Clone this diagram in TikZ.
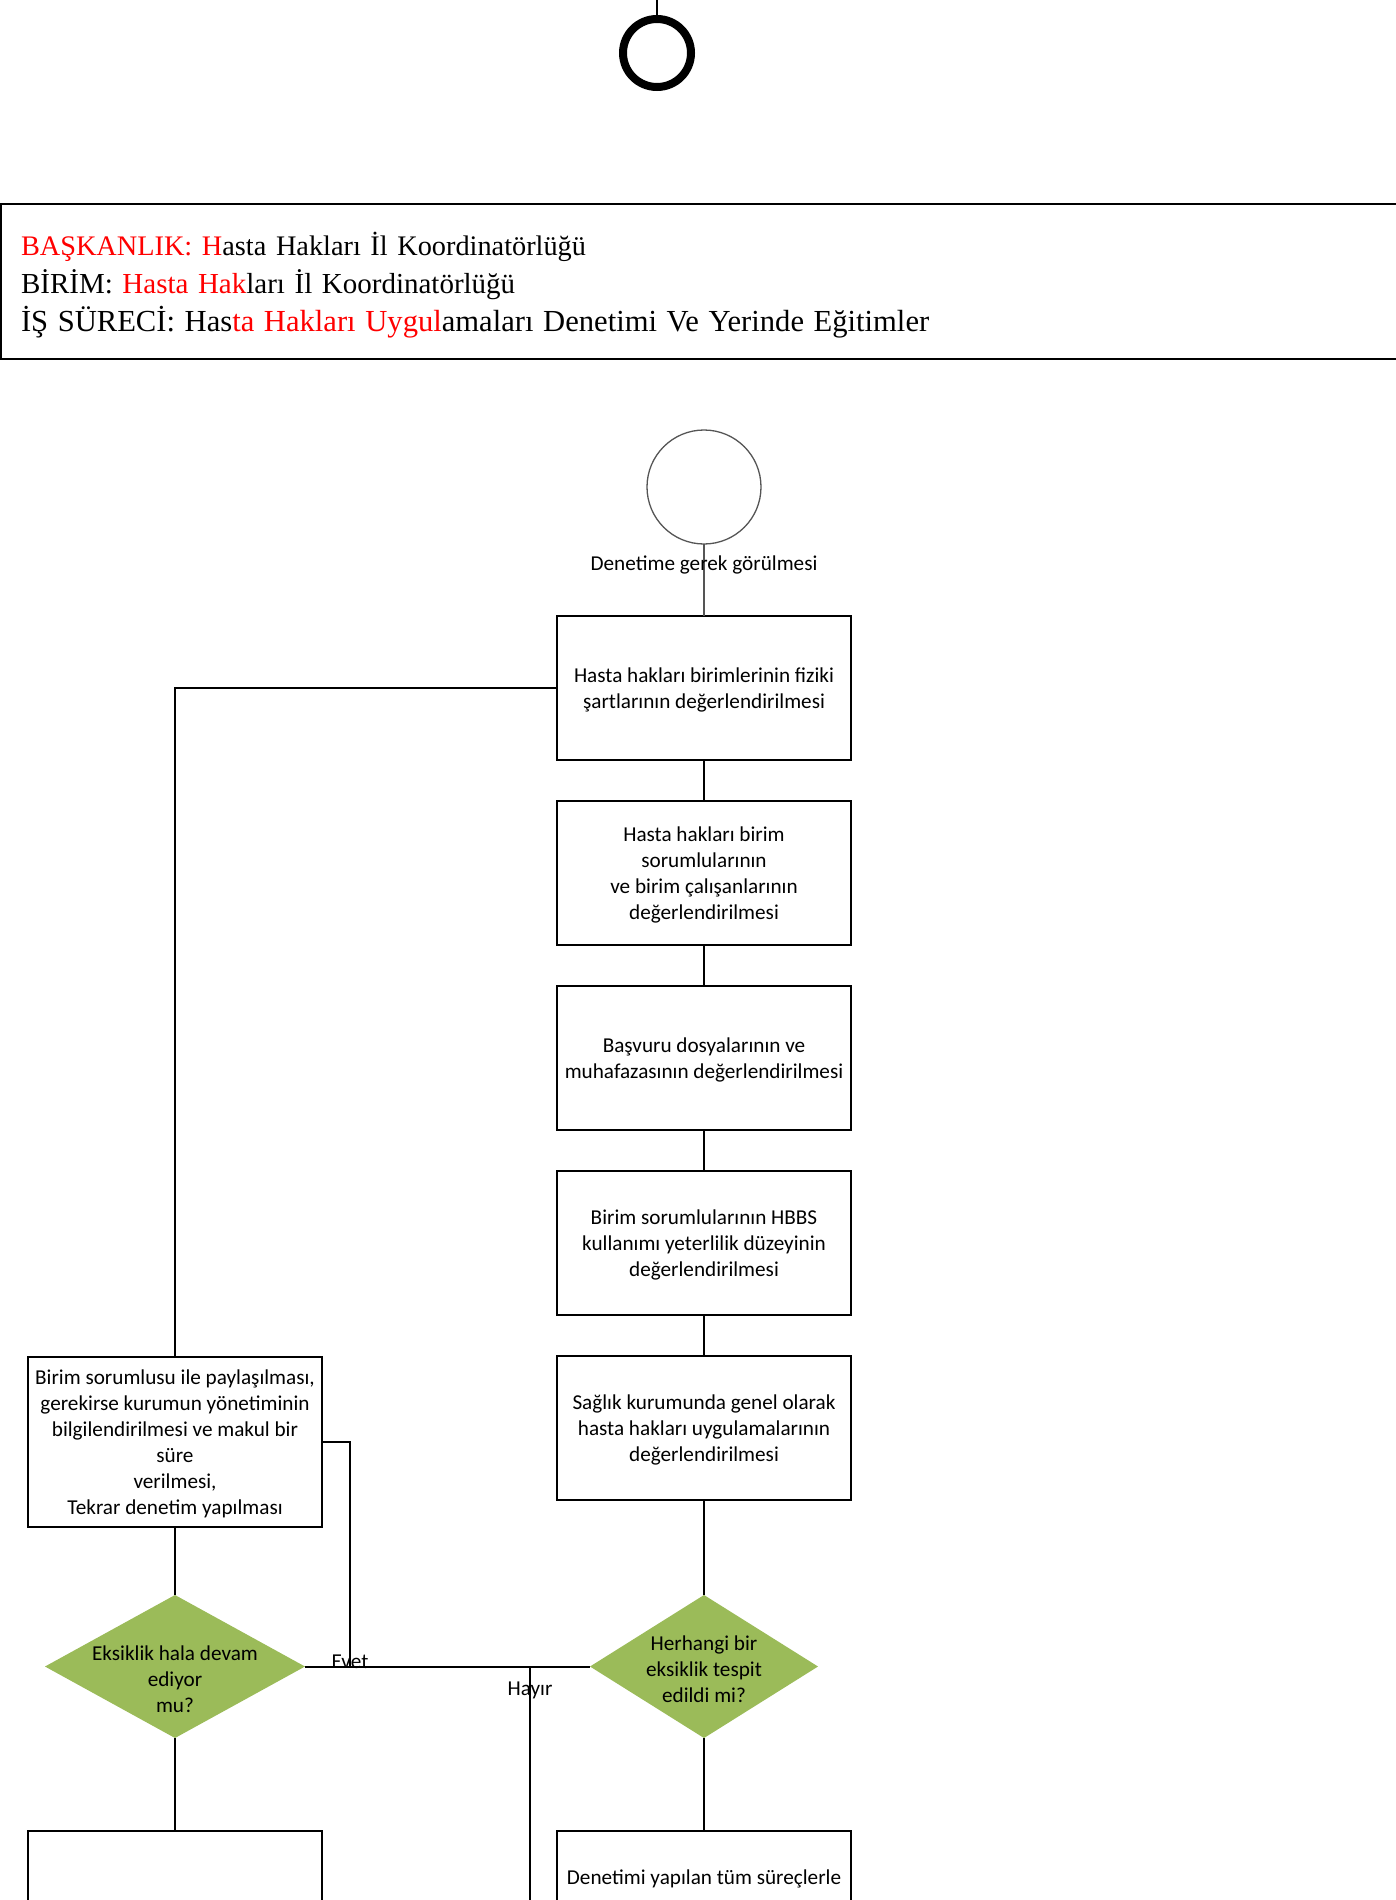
\documentclass[tikz,border=0pt]{standalone}
\usepackage{fontspec}
\usepackage{xcolor}
\usepackage{tikz}
\usetikzlibrary{positioning, shapes.geometric, calc}
\setmainfont{Liberation Serif}
\newfontfamily\calibri{Carlito}
\definecolor{headred}{RGB}{255, 0, 0}
\definecolor{decgreen}{RGB}{155, 187, 89}
\definecolor{circgray}{RGB}{85, 85, 85}

\begin{document}
\begin{tikzpicture}[
    x=1pt, y=-1pt,
    procbox/.style={rectangle, draw=black, line width=2pt, outer sep=0pt, minimum width=293.5pt, minimum height=144pt, inner sep=2pt, align=center, font=\calibri\fontsize{21.2}{26}\selectfont, text depth=-4pt},
    decision/.style={diamond, fill=decgreen, outer sep=0pt, inner sep=0pt, minimum width=#1, minimum height=143pt},
    dectext/.style={align=center, inner sep=0pt, font=\calibri\fontsize{21.2}{26}\selectfont},
    flowlabel/.style={inner sep=0pt, font=\calibri\fontsize{21.2}{26}\selectfont},
    flow/.style={line width=2pt, draw=black},
    header/.style={rectangle, draw=black, line width=2.5pt, outer sep=0pt, text width=1380pt, minimum height=155pt, inner xsep=20pt, inner ysep=0pt, align=left, font=\frenchspacing\fontsize{28.8}{38}\selectfont, text height=31pt}
]
\useasboundingbox (0,0) rectangle (1395,1900);

% End ring (top)
\coordinate (topin) at (657,0);
\node[circle, draw=black, line width=8pt, outer sep=0pt, minimum size=68pt, inner sep=0pt] (endring) at (657,53) {};
\draw[flow] (topin) -- (endring);

% Header
\node[header, anchor=north west] (head) at (1,204) {%
\fontsize{28.3}{38}\selectfont\textcolor{headred}{BAŞKANLIK: H}asta Hakları İl Koordinatörlüğü\\
\fontsize{29}{38}\selectfont BİRİM: \textcolor{headred}{Hasta Hak}ları İl Koordinatörlüğü\\
\fontsize{30.6}{38}\selectfont İŞ SÜRECİ: Has\textcolor{headred}{ta Hakları Uygul}amaları Denetimi Ve Yerinde Eğitimler};

% Main column
\node[procbox] (b1) at (704,688) {Hasta hakları birimlerinin fiziki\\şartlarının değerlendirilmesi};
\node[circle, draw=circgray, line width=1.3pt, outer sep=0pt, minimum size=114pt, inner sep=0pt, above=72pt of b1] (start) {};
\node[procbox, below=41pt of b1] (b2) {Hasta hakları birim\\sorumlularının\\ve birim çalışanlarının\\değerlendirilmesi};
\node[procbox, below=41pt of b2] (b3) {Başvuru dosyalarının ve\\muhafazasının değerlendirilmesi};
\node[procbox, below=41pt of b3] (b4) {Birim sorumlularının HBBS\\kullanımı yeterlilik düzeyinin\\değerlendirilmesi};
\node[procbox, below=41pt of b4] (b5) {Sağlık kurumunda genel olarak\\hasta hakları uygulamalarının\\değerlendirilmesi};

% Decision: any deficiency?
\node[decision=228pt, below=95pt of b5] (chk) {};
\node[dectext, yshift=-2.5pt] (chktxt) at (chk) {Herhangi bir\\eksiklik tespit\\edildi mi?};
\node[procbox, text depth=-14pt, below=93pt of chk] (fin) {Denetimi yapılan tüm süreçlerle\\\mbox{}\\\mbox{}};

% Left column
\node[procbox, minimum height=170pt, anchor=north] (back) at (175,1357) {Birim sorumlusu ile paylaşılması,\\gerekirse kurumun yönetiminin\\bilgilendirilmesi ve makul bir\\süre\\verilmesi,\\Tekrar denetim yapılması};
\node[decision=260pt] (still) at (back |- chk) {};
\node[dectext, yshift=-13pt] (stilltxt) at (still) {Eksiklik hala devam\\ediyor\\mu?};
\node[procbox] (b7) at (back |- fin) {};

% Connectors
\draw[flow, draw=circgray, line width=1.6pt] (start) -- (b1);
\node[flowlabel, anchor=base] (need) at (704,570) {Denetime gerek görülmesi};
\draw[flow] (b1) -- (b2);
\draw[flow] (b2) -- (b3);
\draw[flow] (b3) -- (b4);
\draw[flow] (b4) -- (b5);
\draw[flow] (b5) -- (chk);
\draw[flow] (chk) -- (fin);
\draw[flow] (b1.west) -| (back.north);
\draw[flow] (back) -- (still);
\draw[flow] (still) -- (b7);

% Yes / no branches
\coordinate (evetpt) at ($(still.east)+(45,0)$);
\coordinate (noend) at (530,1900);
\draw[flow] (still.east) -- (chk.west);
\draw[flow] (back.east) -| (evetpt);
\draw[flow] (chk.west -| noend) -- (noend);
\node[flowlabel, anchor=base] (evet) at ($(evetpt)+(0,2)$) {Evet};
\node[flowlabel, anchor=base] (hayir) at ($(chk.west -| noend)+(0,29)$) {Hayır};

\end{tikzpicture}
\end{document}
